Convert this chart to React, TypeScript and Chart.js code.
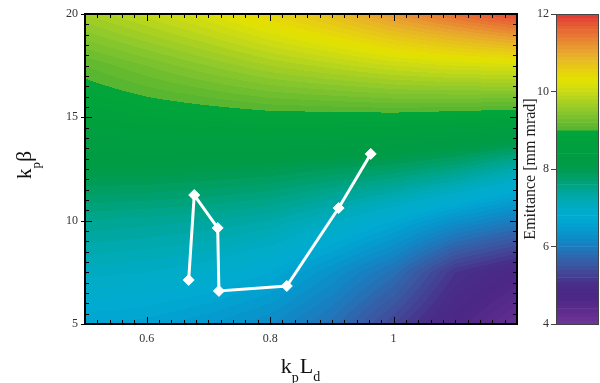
import React, { useEffect, useRef } from 'react';
import { Chart, registerables } from 'chart.js';

Chart.register(...registerables);

// ---- path (white line with diamonds) ----
const pathX = [0.668, 0.677, 0.715, 0.717, 0.827, 0.911, 0.963];
const pathY = [7.13, 11.24, 9.65, 6.6, 6.84, 10.61, 13.23];

// ---- emittance field sampled on a coarse grid ----
const gridX = [0.5, 0.6, 0.7, 0.8, 0.9, 1.0, 1.1, 1.2];
const gridY = [5, 7.5, 10, 12.5, 15, 17.5, 20];
const emitAtY5 = [6.6, 6.55, 6.4, 6.2, 5.85, 5.3, 4.7, 4.2];
const emitAtY7_5 = [7.05, 7.0, 6.9, 6.7, 6.3, 5.85, 5.1, 4.75];
const emitAtY10 = [7.5, 7.45, 7.4, 7.3, 7.05, 6.7, 6.3, 6.0];
const emitAtY12_5 = [8.1, 8.1, 8.05, 8.0, 7.9, 7.8, 7.6, 7.25];
const emitAtY15 = [8.7, 8.8, 8.85, 8.9, 8.9, 8.9, 8.85, 8.8];
const emitAtY17_5 = [9.1, 9.3, 9.5, 9.7, 9.85, 10.0, 10.1, 10.15];
const emitAtY20 = [9.7, 9.95, 10.2, 10.5, 10.8, 11.2, 11.55, 11.9];
const emitRows = [emitAtY5, emitAtY7_5, emitAtY10, emitAtY12_5, emitAtY15, emitAtY17_5, emitAtY20];

// ---- axes ----
const xTickValues = [0.6, 0.8, 1];
const yTickValues = [5, 10, 15, 20];
const cbTickValues = [4, 6, 8, 10, 12];
const levelMin = 4;
const levelMax = 12;
const levelStep = 0.1;

// ---- colour map ----
const cmapValues = [4.0, 4.3, 4.7, 5.0, 5.2, 5.5, 5.8, 6.1, 6.4, 6.7, 7.0, 7.3, 7.6, 7.9, 8.1, 8.6, 9.0, 9.05, 9.5, 10.0, 10.3, 10.6, 11.0, 11.4, 11.8, 12.0];
const cmapColors = [
  [112, 55, 154], [95, 45, 142], [76, 38, 134], [72, 44, 136], [70, 60, 145], [60, 85, 160],
  [42, 108, 178], [20, 132, 196], [6, 152, 206], [0, 170, 210], [0, 172, 198], [0, 168, 168],
  [0, 163, 130], [0, 157, 90], [0, 154, 70], [0, 160, 62], [2, 166, 58], [88, 182, 48],
  [140, 200, 45], [200, 218, 22], [228, 226, 0], [230, 205, 20], [232, 170, 45], [232, 125, 52],
  [228, 80, 52], [224, 55, 55],
];

const SERIF = "'Liberation Serif', 'DejaVu Serif', serif";

function cmap(v: number): number[] {
  if (v <= cmapValues[0]) return cmapColors[0];
  for (let i = 0; i < cmapValues.length - 1; i++) {
    if (v <= cmapValues[i + 1]) {
      const t = (v - cmapValues[i]) / (cmapValues[i + 1] - cmapValues[i]);
      const a = cmapColors[i], b = cmapColors[i + 1];
      return [0, 1, 2].map((k) => Math.round(a[k] + (b[k] - a[k]) * t));
    }
  }
  return cmapColors[cmapColors.length - 1];
}

const nLevels = Math.round((levelMax - levelMin) / levelStep);
const levels: number[] = [];
for (let i = 0; i < nLevels; i++) levels.push(+(levelMin + i * levelStep).toFixed(2));
const levelColors = levels.map((l) => cmap(l + levelStep / 2));

function segIndex(arr: number[], v: number) {
  for (let i = 0; i < arr.length - 2; i++) if (v < arr[i + 1]) return i;
  return arr.length - 2;
}
function fieldAt(xv: number, yv: number) {
  const ix = segIndex(gridX, xv), iy = segIndex(gridY, yv);
  const tx = Math.min(1, Math.max(0, (xv - gridX[ix]) / (gridX[ix + 1] - gridX[ix])));
  const ty = Math.min(1, Math.max(0, (yv - gridY[iy]) / (gridY[iy + 1] - gridY[iy])));
  const r0 = emitRows[iy], r1 = emitRows[iy + 1];
  const a = r0[ix] * (1 - tx) + r0[ix + 1] * tx;
  const b = r1[ix] * (1 - tx) + r1[ix + 1] * tx;
  return a * (1 - ty) + b * ty;
}
function levelIndex(v: number) {
  let i = Math.floor((v - levelMin) / levelStep + 1e-9);
  return Math.max(0, Math.min(nLevels - 1, i));
}

const fieldPlugin = {
  id: 'field',
  beforeDatasetsDraw(chart: any) {
    const { ctx, chartArea, scales } = chart;
    const left = Math.round(chartArea.left), top = Math.round(chartArea.top);
    const w = Math.round(chartArea.right) - left, h = Math.round(chartArea.bottom) - top;
    const off = document.createElement('canvas');
    off.width = w; off.height = h;
    const octx = off.getContext('2d')!;
    const img = octx.createImageData(w, h);
    const xs: number[] = [];
    for (let i = 0; i < w; i++) xs.push(scales.x.getValueForPixel(left + i + 0.5));
    for (let j = 0; j < h; j++) {
      const yv = scales.y.getValueForPixel(top + j + 0.5);
      for (let i = 0; i < w; i++) {
        const c = levelColors[levelIndex(fieldAt(xs[i], yv))];
        const p = (j * w + i) * 4;
        img.data[p] = c[0]; img.data[p + 1] = c[1]; img.data[p + 2] = c[2]; img.data[p + 3] = 255;
      }
    }
    octx.putImageData(img, 0, 0);
    ctx.drawImage(off, left, top);
  },
};

const framePlugin = {
  id: 'frame',
  afterDatasetsDraw(chart: any) {
    const { ctx, chartArea: a, scales } = chart;
    ctx.save();
    ctx.strokeStyle = '#000';
    ctx.lineWidth = 1;
    ctx.beginPath();
    for (let k = 0; k <= 35; k++) {
      const v = 0.5 + k * 0.02;
      const isMajor = xTickValues.some((t) => Math.abs(t - v) < 1e-6);
      const len = isMajor ? 7 : 4;
      const px = Math.round(scales.x.getPixelForValue(v)) + 0.5;
      ctx.moveTo(px, a.bottom); ctx.lineTo(px, a.bottom - len);
      ctx.moveTo(px, a.top); ctx.lineTo(px, a.top + len);
    }
    for (let k = 0; k <= 30; k++) {
      const v = 5 + k * 0.5;
      const isMajor = yTickValues.some((t) => Math.abs(t - v) < 1e-6);
      const len = isMajor ? 7 : 4;
      const py = Math.round(scales.y.getPixelForValue(v)) + 0.5;
      ctx.moveTo(a.left, py); ctx.lineTo(a.left + len, py);
      ctx.moveTo(a.right, py); ctx.lineTo(a.right - len, py);
      if (isMajor) { ctx.moveTo(a.left, py); ctx.lineTo(a.left - 4, py); }
    }
    ctx.stroke();
    ctx.lineWidth = 2;
    ctx.strokeRect(a.left, a.top, a.right - a.left, a.bottom - a.top);
    ctx.restore();
  },
  afterDraw(chart: any) {
    const { ctx, chartArea: a } = chart;
    ctx.save();
    ctx.fillStyle = '#111';
    ctx.textBaseline = 'alphabetic';
    ctx.textAlign = 'left';
    const big = `22px ${SERIF}`, small = `14px ${SERIF}`;
    const parts = [
      { t: 'k', f: big, dy: 0 }, { t: 'p', f: small, dy: 9 },
      { t: 'L', f: big, dy: 0 }, { t: 'd', f: small, dy: 8 },
    ];
    let total = 0;
    parts.forEach((p) => { ctx.font = p.f; total += ctx.measureText(p.t).width + (p.f === small ? 1 : 0); });
    let x = (a.left + a.right) / 2 - total / 2;
    const by = a.bottom + 49;
    parts.forEach((p) => { ctx.font = p.f; ctx.fillText(p.t, x, by + p.dy); x += ctx.measureText(p.t).width + (p.f === small ? 1 : 0); });
    const yparts = [
      { t: 'k', f: `21px ${SERIF}`, dy: 0 }, { t: 'p', f: `13px ${SERIF}`, dy: 9 },
      { t: 'β', f: `22px ${SERIF}`, dy: 0 },
    ];
    let ytotal = 0;
    yparts.forEach((p) => { ctx.font = p.f; ytotal += ctx.measureText(p.t).width; });
    const cy = (a.top + a.bottom) / 2 - 4;
    ctx.translate(31, cy + ytotal / 2);
    ctx.rotate(-Math.PI / 2);
    let yx = 0;
    yparts.forEach((p) => { ctx.font = p.f; ctx.fillText(p.t, yx, p.dy); yx += ctx.measureText(p.t).width; });
    ctx.restore();
  },
};

const cbFramePlugin = {
  id: 'cbframe',
  afterDatasetsDraw(chart: any) {
    const { ctx, chartArea: a } = chart;
    ctx.save();
    ctx.strokeStyle = '#444';
    ctx.lineWidth = 1;
    ctx.strokeRect(Math.round(a.left) + 0.5, Math.round(a.top) + 0.5, Math.round(a.right - a.left) - 1, Math.round(a.bottom - a.top));
    ctx.restore();
  },
};

const noPad = (s: any) => { s.paddingLeft = 0; s.paddingRight = 0; s.paddingTop = 0; s.paddingBottom = 0; };

export default function App() {
  const mainRef = useRef<HTMLCanvasElement>(null);
  const cbRef = useRef<HTMLCanvasElement>(null);

  useEffect(() => {
    const tickFont = { family: SERIF, size: 12 };
    const main = new Chart(mainRef.current!, {
      type: 'scatter',
      data: {
        datasets: [{
          data: pathX.map((x, i) => ({ x, y: pathY[i] })),
          showLine: true,
          borderColor: '#ffffff',
          borderWidth: 3,
          pointStyle: 'rectRot',
          pointRadius: 5.5,
          pointBackgroundColor: '#ffffff',
          pointBorderColor: '#ffffff',
          pointBorderWidth: 1,
        }],
      },
      options: {
        animation: false,
        responsive: false,
        devicePixelRatio: 1,
        layout: { autoPadding: false, padding: { top: 14, right: 3, left: 0, bottom: 0 } },
        plugins: { legend: { display: false }, tooltip: { enabled: false } },
        scales: {
          x: {
            type: 'linear', min: 0.5, max: 1.2,
            afterBuildTicks: (s: any) => { s.ticks = xTickValues.map((v) => ({ value: v })); },
            afterFit: (s: any) => { s.height = 59; noPad(s); },
            grid: { display: false, drawTicks: false },
            border: { display: false },
            ticks: { font: tickFont, color: '#333', padding: 8, maxRotation: 0, autoSkip: false, callback: (v: any) => String(v) },
          },
          y: {
            type: 'linear', min: 5, max: 20,
            afterBuildTicks: (s: any) => { s.ticks = yTickValues.map((v) => ({ value: v })); },
            afterFit: (s: any) => { s.width = 85; noPad(s); },
            grid: { display: false, drawTicks: false },
            border: { display: false },
            ticks: { font: tickFont, color: '#333', padding: 7, autoSkip: false, callback: (v: any) => String(v) },
          },
        },
      } as any,
      plugins: [fieldPlugin, framePlugin],
    });

    const cb = new Chart(cbRef.current!, {
      type: 'bar',
      data: {
        labels: ['cb'],
        datasets: [{
          data: levels.map((l) => ({ x: 'cb', y: [l, l + levelStep] })) as any,
          backgroundColor: levelColors.map((c) => `rgb(${c[0]},${c[1]},${c[2]})`),
          borderWidth: 0,
          barPercentage: 1,
          categoryPercentage: 1,
        }],
      },
      options: {
        animation: false,
        responsive: false,
        devicePixelRatio: 1,
        layout: { autoPadding: false, padding: { top: 14, right: 1, left: 0, bottom: 59 } },
        plugins: { legend: { display: false }, tooltip: { enabled: false } },
        scales: {
          x: { display: false },
          y: {
            type: 'linear', min: levelMin, max: levelMax,
            afterBuildTicks: (s: any) => { s.ticks = cbTickValues.map((v) => ({ value: v })); },
            afterFit: (s: any) => { s.width = 36; noPad(s); },
            grid: { display: true, drawOnChartArea: false, drawTicks: true, tickLength: 5, color: '#444' },
            border: { display: false },
            ticks: { font: tickFont, color: '#333', padding: 2, autoSkip: false, callback: (v: any) => String(v) },
            title: { display: true, text: 'Emittance [mm mrad]', font: { family: SERIF, size: 16 }, color: '#222', padding: { top: 1, bottom: 0 } },
          },
        },
      } as any,
      plugins: [cbFramePlugin],
    });

    return () => { main.destroy(); cb.destroy(); };
  }, []);

  return (
    <div style={{ position: 'absolute', left: 0, top: 0, width: 600, height: 383, background: '#fff' }}>
      <canvas ref={mainRef} width={520} height={383} style={{ position: 'absolute', left: 0, top: 0 }} />
      <canvas ref={cbRef} width={80} height={383} style={{ position: 'absolute', left: 520, top: 0 }} />
    </div>
  );
}
